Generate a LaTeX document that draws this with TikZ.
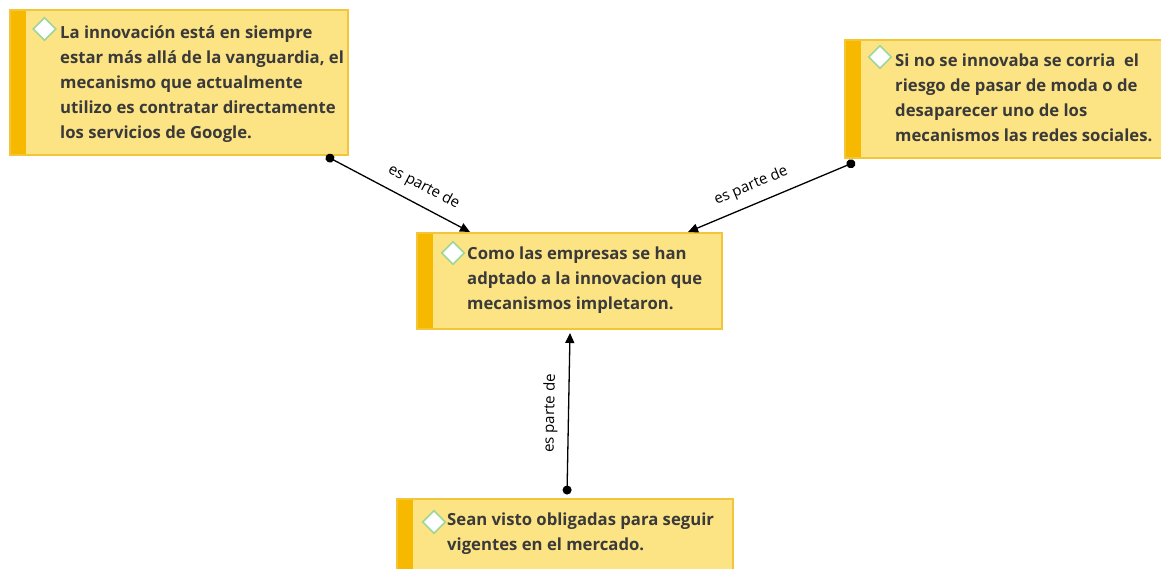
\documentclass[tikz,border=0pt]{standalone}
\usepackage{fontspec}
\setmainfont{Open Sans}
\usetikzlibrary{arrows.meta,shapes.geometric}
\definecolor{boxfill}{HTML}{FCE383}
\definecolor{boxline}{HTML}{F3C63A}
\definecolor{barcol}{HTML}{F7B800}
\definecolor{txtcol}{HTML}{3A3A3A}
\definecolor{dia}{HTML}{9ED69A}
\tikzset{
  card/.style={draw=boxline, line width=1.2pt, fill=boxfill, rectangle, inner sep=0pt,
    path picture={\fill[barcol] (path picture bounding box.north west) rectangle ([xshift=16pt]path picture bounding box.south west);}},
  cardtext/.style={anchor=base west, inner sep=0pt, align=left, text=txtcol,
    font=\fontsize{16.7}{25.2}\selectfont\bfseries},
  icon/.style={diamond, draw=dia, fill=white, line width=1.6pt, inner sep=0pt, minimum size=23pt},
  link/.style={line width=1.3pt, {Circle[length=9pt]}-{Triangle[length=10pt,width=9pt]}},
  lbl/.style={font=\fontsize{15}{17}\selectfont, text=black, sloped, above=10pt, inner sep=0pt}
}
\begin{document}
\begin{tikzpicture}[x=1pt,y=-1pt]
\useasboundingbox (0,0) rectangle (1161,568);
% boxes
\node[card, minimum width=338pt, minimum height=145pt] (A) at (179,82.5) {};
\node[card, minimum width=320pt, minimum height=118pt] (B) at (1005,99) {};
\node[card, minimum width=305pt, minimum height=96pt] (C) at (569.5,281) {};
\node[card, minimum width=336pt, minimum height=90pt] (D) at (565,544) {};
% icons
\node[icon] (Ai) at (44.5,29) {};
\node[icon] (Bi) at (880,57) {};
\node[icon] (Ci) at (453,253) {};
\node[icon] (Di) at (434,522) {};
% texts (anchored at the baseline of the last line)
\node[cardtext] (At) at (60,138.8) {La innovación está en siempre\\estar más allá de la vanguardia, el\\mecanismo que actualmente\\utilizo es contratar directamente\\los servicios de Google.};
\node[cardtext] (Bt) at (895,141.6) {Si no se innovaba se corria\ \ el\\riesgo de pasar de moda o de\\desaparecer uno de los\\mecanismos las redes sociales.};
\node[cardtext] (Ct) at (467,309.9) {Como las empresas se han\\adptado a la innovacion que\\mecanismos impletaron.};
\node[cardtext] (Dt) at (447,550.2) {Sean visto obligadas para seguir\\vigentes en el mercado.};
% connector ends
\coordinate (a0) at (326,156);
\coordinate (a1) at (470,232);
\coordinate (b0) at (855,162);
\coordinate (b1) at (688,232);
\coordinate (d0) at (567,494.5);
\coordinate (d1) at (570,333);
% connectors
\draw[link] (a0) -- node[lbl, pos=0.62] {es parte de} (a1);
\draw[link] (b0) -- node[lbl, pos=0.58] {es parte de} (b1);
\draw[link] (d0) -- node[lbl, pos=0.5] {es parte de} (d1);
\end{tikzpicture}
\end{document}
